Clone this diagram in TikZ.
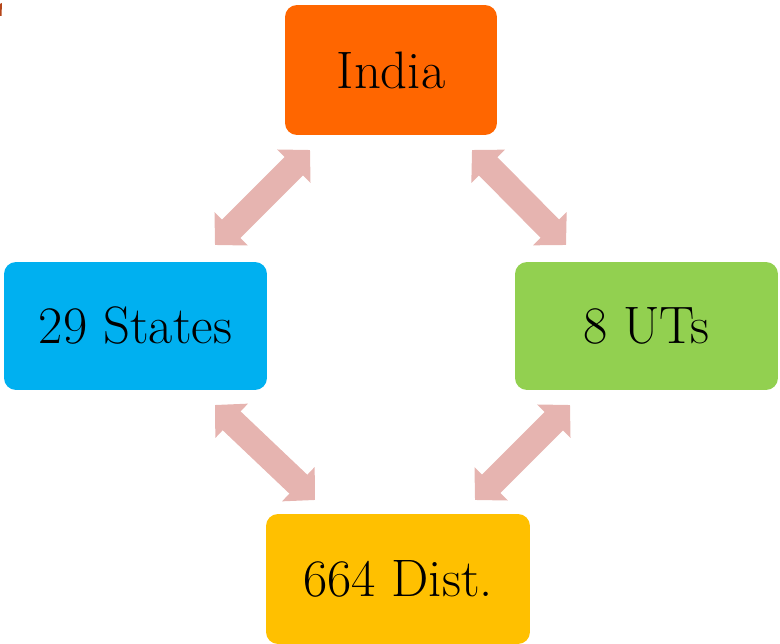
\documentclass[tikz,border=0pt]{standalone}
\usetikzlibrary{arrows.meta}
\definecolor{indiaorange}{HTML}{FF6600}
\definecolor{statesblue}{HTML}{00B0F0}
\definecolor{utsgreen}{HTML}{92D050}
\definecolor{distyellow}{HTML}{FFC000}
\definecolor{arrowpink}{HTML}{E6B4B0}
\definecolor{markbrown}{HTML}{B5461A}
\begin{document}
\begin{tikzpicture}
	[x=0.02cm, y=-0.02cm,
	every node/.style={inner sep=0, outer sep=0, rounded corners=0.24cm, font=\fontsize{30}{36}\selectfont},
	bigarrow/.style={draw=arrowpink, line width=0.52cm, {Triangle[length=0.46cm,width=0.92cm]}-{Triangle[length=0.46cm,width=0.92cm]}}]
	\useasboundingbox (0,0) rectangle (780,644);
	\fill [markbrown] (0,4) -- (2,3) -- (1.5,16) -- (0,16) -- cycle;
	\node (india) [fill=indiaorange, minimum width=4.24cm, minimum height=2.6cm] at (391, 70) {India};
	\node (states) [fill=statesblue, minimum width=5.26cm, minimum height=2.56cm] at (135.5, 326) {29 States};
	\node (uts) [fill=utsgreen, minimum width=5.26cm, minimum height=2.56cm] at (646.5, 326) {8 UTs};
	\node (dist) [fill=distyellow, minimum width=5.28cm, minimum height=2.6cm] at (398, 579) {664 Dist.};
	\draw [bigarrow] ([shift={(25,15)}]india.south west) -- ([shift={(-52,-17)}]states.north east);
	\draw [bigarrow] ([shift={(-25,15)}]india.south east) -- ([shift={(51,-17)}]uts.north west);
	\draw [bigarrow] ([shift={(-52,15)}]states.south east) -- ([shift={(49,-14)}]dist.north west);
	\draw [bigarrow] ([shift={(55,15)}]uts.south west) -- ([shift={(-55,-14)}]dist.north east);
\end{tikzpicture}
\end{document}
